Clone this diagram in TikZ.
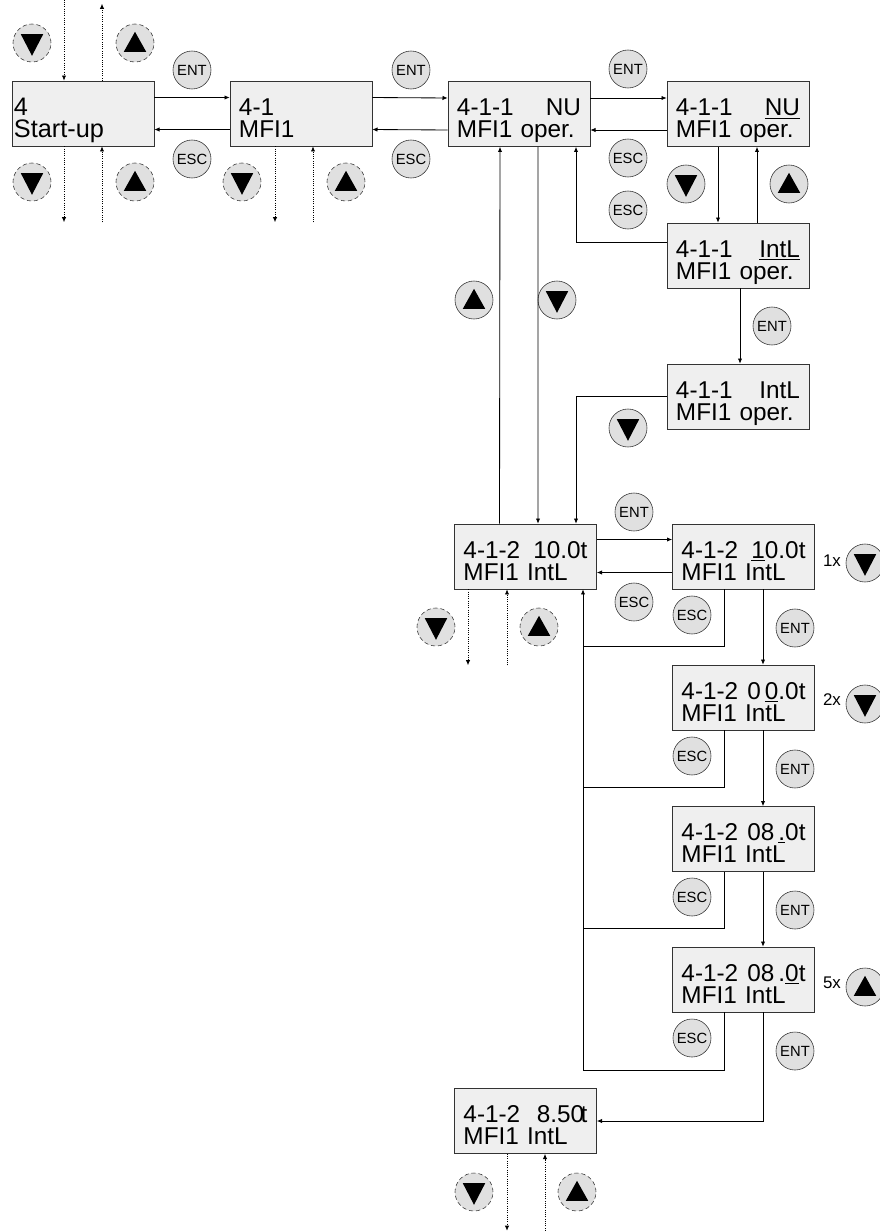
\documentclass[tikz,border=0pt]{standalone}
\usepackage{fontspec}
\setmainfont{Liberation Sans}
\usepackage{tikz}
\usetikzlibrary{arrows.meta,calc}
\definecolor{lcdgray}{HTML}{EFEFEF}
\definecolor{keygray}{HTML}{E0E0E0}
\tikzset{
  lcd/.style={draw=black!80,fill=lcdgray,minimum width=3.55cm,minimum height=1.625cm,
    inner xsep=0pt,text width=3.1cm,align=left,text height=0.6cm,text depth=0.52cm,
    font=\fontsize{17.3}{15.6}\selectfont},
  key/.style={circle,draw=black!80,fill=keygray,minimum size=0.95cm,inner sep=0pt,
    font=\fontsize{10.5}{10.5}\selectfont},
  softkey/.style={key,densely dashed},
  dnkey/.style={path picture={\fill[black] ($(path picture bounding box.center)+(-0.28cm,0.22cm)$)
    -- ++(0.56cm,0) -- ++(-0.28cm,-0.54cm) -- cycle;}},
  upkey/.style={path picture={\fill[black] ($(path picture bounding box.center)+(-0.28cm,-0.22cm)$)
    -- ++(0.56cm,0) -- ++(-0.28cm,0.5cm) -- cycle;}},
  link/.style={-{Latex[length=1.3mm,width=1.1mm]},line width=0.6pt},
  dots/.style={link,densely dotted}
}
\begin{document}
\begin{tikzpicture}[x=0.025cm,y=-0.025cm]
\useasboundingbox (0,0) rectangle (880,1231);
% display boxes
\node[lcd,text width=3.45cm,font=\fontsize{18}{15.6}\selectfont] (st) at (83,113.5) {4\\Start-up};
\node[lcd] (m41) at (301,113.5) {4-1\\MFI1};
\node[lcd] (nu) at (519,114) {4-1-1\hfill NU\hspace*{5.7pt}\\MFI1 oper.};
\node[lcd] (nuu) at (738,114) {4-1-1\hfill \underline{NU}\hspace*{-1.4pt}\\MFI1 oper.};
\node[lcd] (ilu) at (738,255.5) {4-1-1\hfill \underline{IntL}\hspace*{-5pt}\\MFI1 oper.};
\node[lcd] (il) at (738,396.5) {4-1-1\hfill IntL\hspace*{-5pt}\\MFI1 oper.};
\node[lcd] (t10) at (525.5,556.5) {4-1-2\hfill 10.0t\\MFI1 IntL};
\node[lcd] (t10u) at (743.5,556.5) {4-1-2\hfill \underline{1}0.0t\hspace*{-2.8pt}\\MFI1 IntL};
\node[lcd] (t00) at (743.5,697.5) {4-1-2\hfill 0\,\underline{0}.0t\hspace*{-1.4pt}\\MFI1 IntL};
\node[lcd] (t08) at (743.5,839) {4-1-2\hfill 08\,\underline{.}0t\hspace*{-1.4pt}\\MFI1 IntL};
\node[lcd] (t08b) at (743.5,979.5) {4-1-2\hfill 08\,.\underline{0}t\hspace*{-1.4pt}\\MFI1 IntL};
\node[lcd] (t85) at (525.5,1121) {4-1-2\hfill 8.50\kern-2.5pt t\\MFI1 IntL};
% keys
\node[key] (ent1) at (192,70) {ENT};
\node[key] (esc1) at (192,159) {ESC};
\node[key] (ent2) at (411,70) {ENT};
\node[key] (esc2) at (411,159) {ESC};
\node[key] (ent3) at (628,69) {ENT};
\node[key] (esc3) at (628,158) {ESC};
\node[key] (esc4) at (628,210) {ESC};
\node[key] (ent4) at (772,326) {ENT};
\node[key] (ent5) at (634,512) {ENT};
\node[key] (esc5) at (634,602) {ESC};
\node[key] (esc6) at (692,615) {ESC};
\node[key] (ent6) at (795,628) {ENT};
\node[key] (esc7) at (692,756) {ESC};
\node[key] (ent7) at (795,769) {ENT};
\node[key] (esc8) at (692,897) {ESC};
\node[key] (ent8) at (795,910) {ENT};
\node[key] (esc9) at (692,1038) {ESC};
\node[key] (ent9) at (795,1051) {ENT};
\node[softkey,dnkey] (sdn1) at (32,43) {};
\node[softkey,upkey] (sup1) at (135,43) {};
\node[softkey,dnkey] (sdn2) at (32,182) {};
\node[softkey,upkey] (sup2) at (135,182) {};
\node[softkey,dnkey] (sdn3) at (242,182) {};
\node[softkey,upkey] (sup3) at (346,182) {};
\node[softkey,dnkey] (sdn4) at (436,627) {};
\node[softkey,upkey] (sup4) at (539,627) {};
\node[softkey,dnkey] (sdn5) at (474,1192) {};
\node[softkey,upkey] (sup5) at (577,1192) {};
\node[key,dnkey] (dn1) at (686,184) {};
\node[key,upkey] (up1) at (789,184) {};
\node[key,upkey] (up2) at (474,300) {};
\node[key,dnkey] (dn2) at (557,300) {};
\node[key,dnkey] (dn3) at (628,428) {};
\node[key,dnkey] (dn4) at (865,563) {};
\node[key,dnkey] (dn5) at (865,704) {};
\node[key,upkey] (up3) at (865,987) {};
\node[font=\fontsize{12}{12}\selectfont] (n1x) at (832,561) {1x};
\node[font=\fontsize{12}{12}\selectfont] (n2x) at (832,700) {2x};
\node[font=\fontsize{12}{12}\selectfont] (n5x) at (832,983) {5x};
% top row
\draw[link] ($(st.east)+(0,-16)$) -- ($(m41.west)+(0,-16)$);
\draw[link] ($(m41.west)+(0,16)$) -- ($(st.east)+(0,16)$);
\draw[link] ($(m41.east)+(0,-16)$) -- ($(nu.west)+(0,-16)$);
\draw[link] ($(nu.west)+(0,16)$) -- ($(m41.east)+(0,16)$);
\draw[link] ($(nu.east)+(0,-16)$) -- ($(nuu.west)+(0,-16)$);
\draw[link] ($(nuu.west)+(0,16)$) -- ($(nu.east)+(0,16)$);
% selection of the operating mode
\draw[link] ($(nuu.south)+(-20,0)$) -- ($(ilu.north)+(-20,0)$);
\draw[link] ($(ilu.north)+(19,0)$) -- ($(nuu.south)+(19,0)$);
\draw[link] ($(ilu.west)+(0,-13)$) -| ($(nu.south)+(57,0)$);
\draw[link] ($(ilu.south)+(2,0)$) -- ($(il.north)+(2,0)$);
\draw[link] (il.west) -| ($(t10.north)+(50.5,0)$);
\draw[link] ($(t10.north)+(-26,0)$) -- ($(nu.south)+(-19,0)$);
\draw[link] ($(nu.south)+(19,0)$) -- ($(t10.north)+(12.5,0)$);
% setting of the value
\draw[link] ($(t10.east)+(0,-17)$) -- ($(t10u.west)+(0,-17)$);
\draw[link] ($(t10u.west)+(0,16)$) -- ($(t10.east)+(0,16)$);
\coordinate (rail) at ($(t10.south)+(57.5,0)$);
\draw[line width=0.6pt] ($(t10u.south)+(-19.5,0)$) |- ($(rail)+(0,57)$);
\draw[line width=0.6pt] ($(t00.south)+(-19.5,0)$) |- ($(rail)+(0,198)$);
\draw[line width=0.6pt] ($(t08.south)+(-19.5,0)$) |- ($(rail)+(0,339)$);
\draw[link] ($(t08b.south)+(-19.5,0)$) |- ($(rail)+(0,481)$) -- (rail);
\draw[link] ($(t10u.south)+(19.5,0)$) -- ($(t00.north)+(19.5,0)$);
\draw[link] ($(t00.south)+(19.5,0)$) -- ($(t08.north)+(19.5,0)$);
\draw[link] ($(t08.south)+(19.5,0)$) -- ($(t08b.north)+(19.5,0)$);
\draw[link] ($(t08b.south)+(19.5,0)$) |- (t85.east);
% further menus
\draw[dots] ($(st.north)+(-19,-81)$) -- ($(st.north)+(-19,0)$);
\draw[dots] ($(st.north)+(19,0)$) -- ++(0,-77);
\draw[dots] ($(st.south)+(-19,0)$) -- ++(0,76);
\draw[dots] ($(st.south)+(19,76)$) -- ($(st.south)+(19,0)$);
\draw[dots] ($(m41.south)+(-26,0)$) -- ++(0,76);
\draw[dots] ($(m41.south)+(12,76)$) -- ($(m41.south)+(12,0)$);
\draw[dots] ($(t10.south)+(-57.5,0)$) -- ++(0,76);
\draw[dots] ($(t10.south)+(-18.5,76)$) -- ($(t10.south)+(-18.5,0)$);
\draw[dots] ($(t85.south)+(-18.5,0)$) -- ++(0,77);
\draw[dots] ($(t85.south)+(19.5,77)$) -- ($(t85.south)+(19.5,0)$);
\end{tikzpicture}
\end{document}
